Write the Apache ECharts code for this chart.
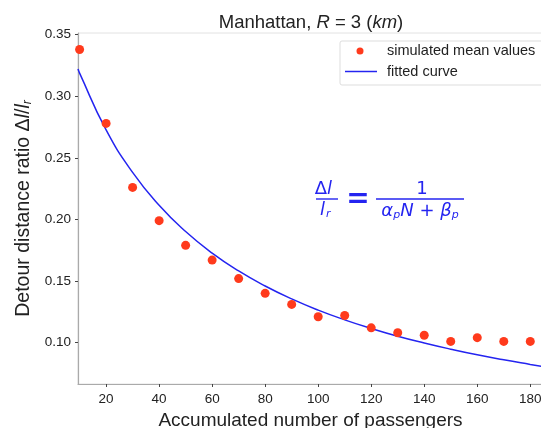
<!DOCTYPE html>
<html>
<head>
<meta charset="utf-8">
<script src="https://cdn.jsdelivr.net/npm/echarts@6/dist/echarts.min.js"></script>
<style>
  html, body { margin: 0; padding: 0; background: #fff; }
  #chart { width: 541px; height: 428px; }
</style>
</head>
<body>
<div id="chart"></div>
<script>
// Accumulated number of passengers at each simulation step
const passengers = [10, 20, 30, 40, 50, 60, 70, 80, 90, 100, 110, 120, 130, 140, 150, 160, 170, 180];
// Simulated mean detour distance ratio
const simulatedMean = [0.338, 0.278, 0.226, 0.199, 0.179, 0.167, 0.152, 0.140, 0.131, 0.121, 0.122, 0.112, 0.108, 0.106, 0.101, 0.104, 0.101, 0.101];
// Fitted curve sampled along the axis
const fitN = [9.4, 10, 20, 30, 40, 50, 60, 70, 80, 90, 100, 110, 120, 130, 140, 150, 160, 170, 180, 184.8];
const fitRatio = [0.3221, 0.3188, 0.2727, 0.2382, 0.2115, 0.1902, 0.1727, 0.1582, 0.1460, 0.1355, 0.1264, 0.1185, 0.1115, 0.1052, 0.0997, 0.0947, 0.0901, 0.0860, 0.0823, 0.0806];
const xTicks = [20, 40, 60, 80, 100, 120, 140, 160, 180];
const yTicks = [0.10, 0.15, 0.20, 0.25, 0.30, 0.35];

const FONT = '"Liberation Sans", Arial, sans-serif';
const MATH = '"DejaVu Sans", sans-serif';
const BLUE = '#2424f0';
const RED = '#ff3a1c';

const chart = echarts.init(document.getElementById('chart'), null, { renderer: 'canvas' });

const eqX = 316, eqY = 199;
chart.setOption({
  animation: false,
  backgroundColor: '#fff',
  title: {
    text: 'Manhattan, {i|R} = 3 ({i|km})',
    left: 306, top: 8, textAlign: 'center',
    textStyle: {
      fontFamily: FONT, fontSize: 18.5, fontWeight: 'normal', color: '#222',
      rich: { i: { fontFamily: FONT, fontSize: 18.5, fontStyle: 'italic', color: '#222' } }
    }
  },
  grid: { left: 78, right: -2, top: 33, bottom: 44, outerBoundsMode: 'none', containLabel: false,
    show: true, borderColor: '#e2e2e2', borderWidth: 1 },
  xAxis: {
    type: 'value', min: 9.4, max: 184.8, interval: 20,
    name: 'Accumulated number of passengers',
    nameLocation: 'middle', nameGap: 22,
    nameTextStyle: { fontFamily: FONT, fontSize: 19, color: '#222' },
    axisLine: { lineStyle: { color: '#aaa', width: 1.2 } },
    axisTick: { show: true, length: 3, inside: false, lineStyle: { color: '#444' }, customValues: xTicks },
    axisLabel: { fontFamily: FONT, fontSize: 13.5, color: '#222', margin: 8, customValues: xTicks },
    splitLine: { show: false }
  },
  yAxis: {
    type: 'value', min: 0.0664, max: 0.3514,
    name: 'Detour distance ratio Δ{i|l}/{i|l}{s|r}',
    nameLocation: 'middle', nameGap: 38, nameRotate: 90,
    nameTextStyle: {
      fontFamily: FONT, fontSize: 19.5, color: '#222',
      rich: {
        i: { fontFamily: FONT, fontSize: 19.5, fontStyle: 'italic', color: '#222' },
        s: { fontFamily: FONT, fontSize: 12, fontStyle: 'italic', color: '#222', padding: [8, 0, 0, 0] }
      }
    },
    axisLine: { show: true, lineStyle: { color: '#aaa', width: 1.2 } },
    axisTick: { show: true, length: 3, lineStyle: { color: '#444' }, customValues: yTicks },
    axisLabel: { fontFamily: FONT, fontSize: 13.5, color: '#222', margin: 7, customValues: yTicks,
      formatter: v => v.toFixed(2) },
    splitLine: { show: false }
  },
  legend: { show: false },
  series: [
    {
      name: 'fitted curve', type: 'line', smooth: true, showSymbol: false,
      data: fitN.map((n, i) => [n, fitRatio[i]]),
      lineStyle: { color: BLUE, width: 1.5 }, z: 2
    },
    {
      name: 'simulated mean values', type: 'scatter', symbolSize: 9,
      data: passengers.map((n, i) => [n, simulatedMean[i]]),
      itemStyle: { color: RED, opacity: 1 }, z: 3
    }
  ],
  graphic: [
    // legend box
    { type: 'rect', shape: { x: 340, y: 41, width: 210, height: 44, r: 2 },
      style: { fill: 'rgba(255,255,255,0.9)', stroke: '#ddd', lineWidth: 1 }, z: 10 },
    { type: 'circle', shape: { cx: 360, cy: 51, r: 3.5 }, style: { fill: RED }, z: 11 },
    { type: 'text', x: 387, y: 51, style: { text: 'simulated mean values', font: '14.5px ' + FONT, fill: '#222', verticalAlign: 'middle' }, z: 11 },
    { type: 'line', shape: { x1: 345, y1: 71.5, x2: 377, y2: 71.5 }, style: { stroke: BLUE, lineWidth: 1.5 }, z: 11 },
    { type: 'text', x: 387, y: 71.5, style: { text: 'fitted curve', font: '14.5px ' + FONT, fill: '#222', verticalAlign: 'middle' }, z: 11 },
    // fitted formula
    { type: 'text', x: eqX + 11, y: eqY - 1, style: { text: 'Δ', font: '18px ' + MATH, fill: BLUE, align: 'right', verticalAlign: 'bottom' }, z: 11 },
    { type: 'text', x: eqX + 11, y: eqY - 1, style: { text: 'l', font: 'italic 18px ' + MATH, fill: BLUE, align: 'left', verticalAlign: 'bottom' }, z: 11 },
    { type: 'line', shape: { x1: eqX, y1: eqY, x2: eqX + 22, y2: eqY }, style: { stroke: BLUE, lineWidth: 1.4 }, z: 11 },
    { type: 'text', x: eqX + 4, y: eqY + 2, style: { text: 'l', font: 'italic 18px ' + MATH, fill: BLUE, verticalAlign: 'top' }, z: 11 },
    { type: 'text', x: eqX + 10, y: eqY + 10, style: { text: 'r', font: 'italic 11px ' + MATH, fill: BLUE, verticalAlign: 'top' }, z: 11 },
    { type: 'text', x: eqX + 42, y: eqY + 1, style: { text: '=', font: 'bold 28px ' + MATH, fill: BLUE, align: 'center', verticalAlign: 'middle' }, z: 11 },
    { type: 'text', x: eqX + 106, y: eqY - 1, style: { text: '1', font: '18px ' + MATH, fill: BLUE, align: 'center', verticalAlign: 'bottom' }, z: 11 },
    { type: 'line', shape: { x1: eqX + 60, y1: eqY, x2: eqX + 148, y2: eqY }, style: { stroke: BLUE, lineWidth: 1.4 }, z: 11 },
    { type: 'text', x: eqX + 104, y: eqY + 2, style: {
        text: '{a|α}{s|p}{a|N + β}{s|p}', align: 'center', verticalAlign: 'top',
        rich: {
          a: { font: 'italic 18px ' + MATH, fill: BLUE, color: BLUE },
          s: { font: 'italic 11px ' + MATH, fill: BLUE, color: BLUE, padding: [9, 0, 0, 0] }
        }
      }, z: 11 }
  ]
});
</script>
</body>
</html>
